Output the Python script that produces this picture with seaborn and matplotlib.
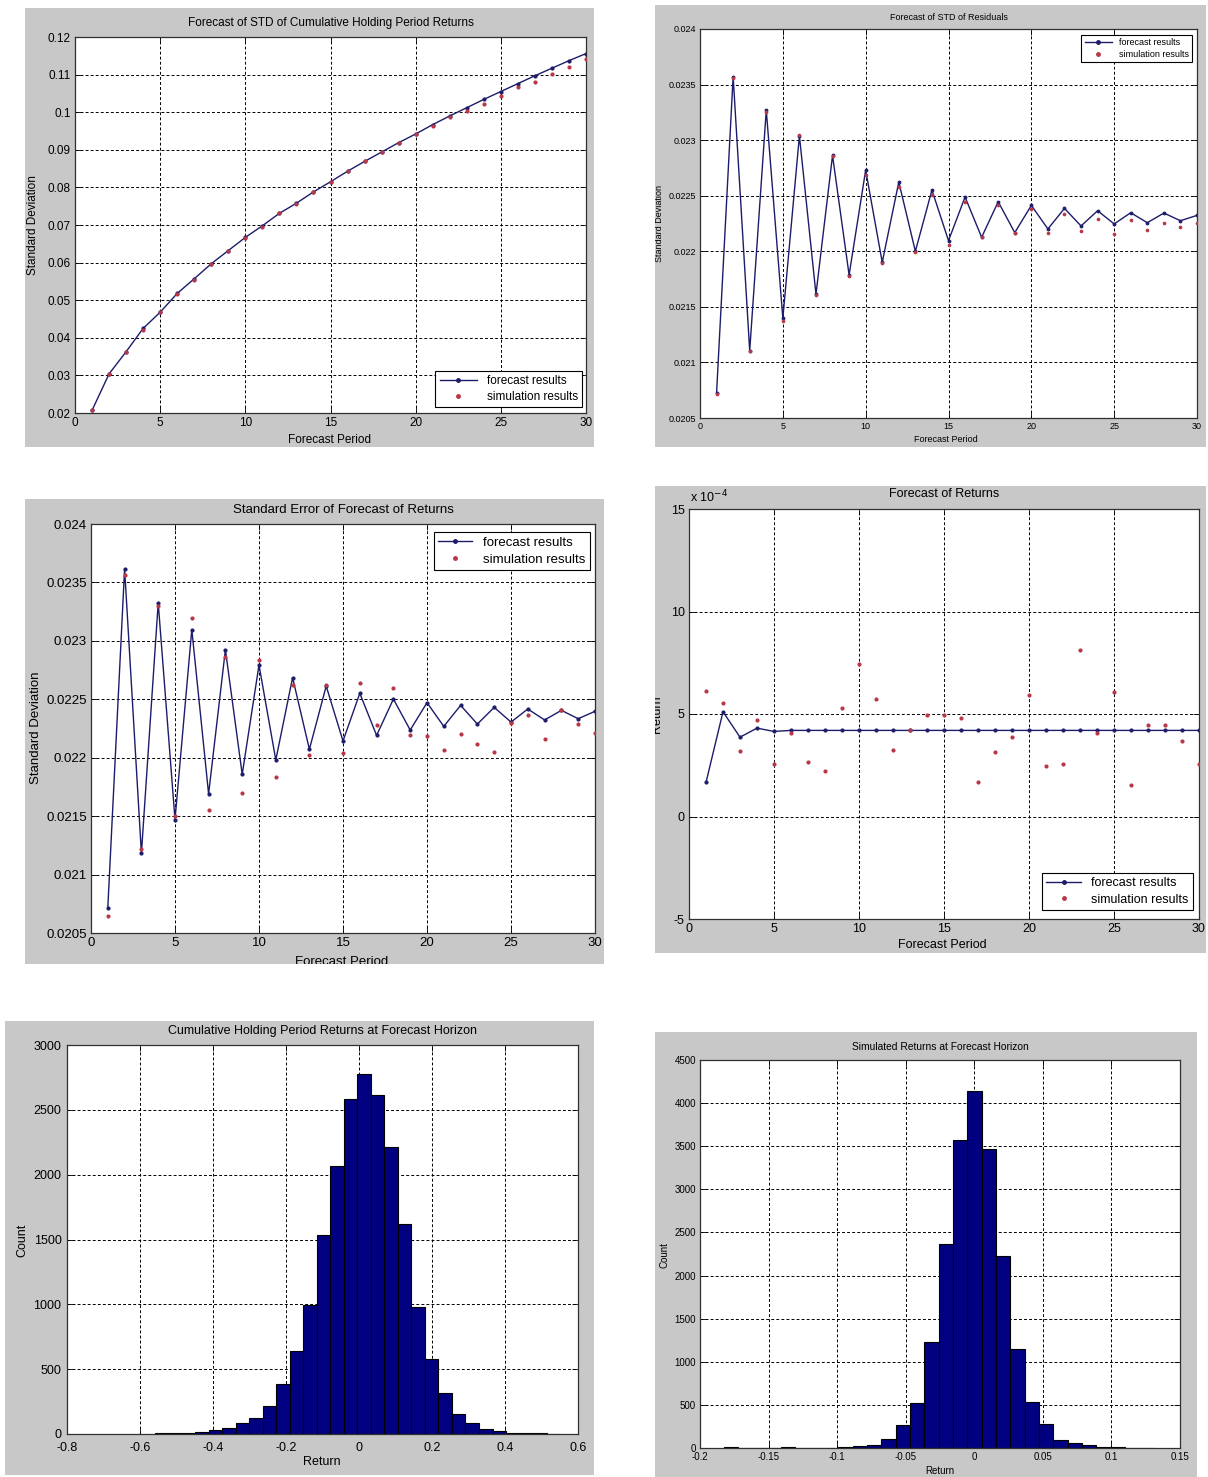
import numpy as np
import pandas as pd
import matplotlib
matplotlib.use("Agg")
import matplotlib.pyplot as plt
import seaborn as sns
from matplotlib.patches import Rectangle
from matplotlib.lines import Line2D
from matplotlib.ticker import FixedLocator, FuncFormatter
from matplotlib.transforms import Bbox, TransformedBbox

plt.rcParams['font.family'] = ['Liberation Sans', 'DejaVu Sans']

# ---------------------------------------------------------------- data
period = list(range(1, 31))

cum_std_forecast = [0.0207, 0.0304, 0.0363, 0.0425, 0.0468, 0.0518, 0.0557, 0.0597,
                    0.0632, 0.0667, 0.0698, 0.0731, 0.0758, 0.0788, 0.0815, 0.0843,
                    0.0869, 0.0894, 0.0919, 0.0942, 0.0967, 0.0990, 0.1012, 0.1034,
                    0.1055, 0.1076, 0.1097, 0.1117, 0.1137, 0.1156]
cum_std_sim = [0.0207, 0.0303, 0.0362, 0.0422, 0.0469, 0.0517, 0.0555, 0.0596,
               0.0631, 0.0665, 0.0696, 0.0731, 0.0756, 0.0788, 0.0815, 0.0843,
               0.0869, 0.0893, 0.0918, 0.0942, 0.0962, 0.0986, 0.1004, 0.1023,
               0.1043, 0.1066, 0.1080, 0.1101, 0.1121, 0.1141]

resid_std_forecast = [0.020725, 0.023572, 0.021105, 0.023270, 0.021398, 0.023039,
                      0.021614, 0.022862, 0.021787, 0.022730, 0.021901, 0.022623,
                      0.022000, 0.022551, 0.022096, 0.022488, 0.022126, 0.022446,
                      0.022168, 0.022413, 0.022201, 0.022386, 0.022228, 0.022365,
                      0.022246, 0.022347, 0.022257, 0.022344, 0.022275, 0.022323]
resid_std_sim = [0.020716, 0.023563, 0.021099, 0.023257, 0.021374, 0.023042,
                 0.021608, 0.022853, 0.021781, 0.022683, 0.021895, 0.022575,
                 0.021994, 0.022509, 0.022057, 0.022446, 0.022126, 0.022413,
                 0.022162, 0.022383, 0.022162, 0.022338, 0.022183, 0.022293,
                 0.022159, 0.022281, 0.022189, 0.022251, 0.022216, 0.022251]

se_forecast = [0.020714, 0.023616, 0.021181, 0.023325, 0.021471, 0.023097,
               0.021690, 0.022924, 0.021858, 0.022793, 0.021981, 0.022685,
               0.022072, 0.022613, 0.022143, 0.022551, 0.022191, 0.022502,
               0.022237, 0.022471, 0.022268, 0.022448, 0.022288, 0.022431,
               0.022305, 0.022417, 0.022323, 0.022405, 0.022334, 0.022397]
se_sim = [0.020642, 0.023564, 0.021218, 0.023297, 0.021497, 0.023194,
          0.021554, 0.022861, 0.021699, 0.022833, 0.021838, 0.022622,
          0.022020, 0.022619, 0.022043, 0.022642, 0.022277, 0.022599,
          0.022191, 0.022183, 0.022063, 0.022203, 0.022117, 0.022052,
          0.022294, 0.022363, 0.022163, 0.022405, 0.022288, 0.022211]

# returns expressed in units of 1e-4
ret_forecast_e4 = [1.66, 5.11, 3.87, 4.31, 4.15, 4.20, 4.20, 4.20, 4.20, 4.20,
                   4.20, 4.20, 4.20, 4.20, 4.20, 4.20, 4.20, 4.20, 4.20, 4.20,
                   4.20, 4.20, 4.20, 4.20, 4.20, 4.20, 4.20, 4.20, 4.20, 4.20]
ret_sim_e4 = [6.13, 5.56, 3.20, 4.72, 2.54, 4.07, 2.65, 2.23, 5.28, 7.46,
              5.71, 3.25, 4.20, 4.93, 4.93, 4.81, 1.66, 3.17, 3.87, 5.93,
              2.46, 2.55, 8.11, 4.08, 6.05, 1.56, 4.46, 4.46, 3.67, 2.55]

cum_ret_range = (-0.560, 0.551)
cum_ret_counts = [5, 6, 8, 18, 33, 46, 82, 121, 218, 388,
                  640, 997, 1537, 2067, 2581, 2776, 2612, 2211, 1617, 982,
                  581, 319, 152, 82, 39, 23, 8, 5, 4, 3]

sim_ret_range = (-0.1827, 0.1308)
sim_ret_counts = [10, 0, 0, 3, 8, 2, 5, 5, 8, 19,
                  39, 108, 263, 518, 1225, 2370, 3572, 4140, 3471, 2223,
                  1144, 530, 274, 93, 54, 31, 10, 6, 5, 4]

# ---------------------------------------------------------------- styling
W, H = 1208, 1477
GRAY = '#c8c8c8'
NAVY = '#1c1c6a'
RED = '#b83848'
BARBLUE = '#000080'

fig = plt.figure(figsize=(W / 100, H / 100), dpi=100)
fig.patch.set_facecolor('white')


def panel(gray, box, fs):
    gx0, gy0, gx1, gy1 = gray
    fig.add_artist(Rectangle((gx0 / W, 1 - gy1 / H), (gx1 - gx0) / W, (gy1 - gy0) / H,
                             transform=fig.transFigure, fc=GRAY, ec='none', zorder=-10))
    l, t, r, b = box
    ax = fig.add_axes([l / W, 1 - b / H, (r - l) / W, (b - t) / H])
    ax.set_facecolor('white')
    clip = TransformedBbox(Bbox.from_extents(gx0 / W, 1 - gy1 / H, gx1 / W, 1 - gy0 / H),
                           fig.transFigure)
    ax.grid(True, color='black', linestyle=(0, (3, 2.2)), linewidth=0.7)
    ax.set_axisbelow(True)
    ax.tick_params(direction='in', top=True, right=True, length=4, width=0.6,
                   labelsize=fs, pad=3, colors='black')
    for s in ax.spines.values():
        s.set_linewidth(0.9)
        s.set_color('#303030')
    return ax, clip, box


def to_ax(box, x, y):
    l, t, r, b = box
    return (x - l) / (r - l), (b - y) / (b - t)


def label_panel(ax, box, clip, fs, title, tpos, xlabel, xpos, ylabel, ypos, tfs=None):
    tx, ty = to_ax(box, *tpos)
    ax.set_title(title, fontsize=tfs or fs, y=ty, pad=0, va='center')
    ax.set_xlabel(xlabel, fontsize=fs, va='center')
    ax.xaxis.set_label_coords(*to_ax(box, *xpos))
    ax.set_ylabel(ylabel, fontsize=fs, va='center')
    ax.yaxis.set_label_coords(*to_ax(box, *ypos))
    for t in (ax.title, ax.xaxis.label, ax.yaxis.label):
        t.set_clip_box(clip)
        t.set_clip_on(True)


def gfmt(v, pos=None):
    v = round(v, 7)
    return '0' if v == 0 else f'{v:g}'


def add_legend(ax, box, corner, fs, hl=3.0):
    handles = [Line2D([], [], color=NAVY, lw=1, marker='.', ms=5),
               Line2D([], [], color=RED, lw=0, marker='.', ms=5)]
    x, y = to_ax(box, *corner)
    leg = ax.legend(handles, ['forecast results', 'simulation results'],
                    loc='upper right', bbox_to_anchor=(x, y), borderaxespad=0,
                    fontsize=fs, frameon=True, fancybox=False, framealpha=1,
                    edgecolor='black', handlelength=hl, handletextpad=0.8,
                    labelspacing=0.35, borderpad=0.35)
    leg.get_frame().set_linewidth(0.8)


def period_plot(ax, forecast, sim, ms=4.5, s=9):
    sns.lineplot(x=period, y=forecast, ax=ax, color=NAVY, lw=1, marker='.',
                 markersize=ms, markeredgecolor=NAVY, legend=False)
    sns.scatterplot(x=period, y=sim, ax=ax, color=RED, marker='o', s=s,
                    linewidth=0, legend=False, zorder=3)
    ax.set_xlim(0, 30)
    ax.xaxis.set_major_locator(FixedLocator(range(0, 31, 5)))
    ax.xaxis.set_major_formatter(FuncFormatter(gfmt))
    ax.yaxis.set_major_formatter(FuncFormatter(gfmt))


# ---- Panel 1: STD of cumulative holding period returns
fs = 8.5
ax, clip, box = panel((25, 8, 594, 447), (75, 37, 586, 413), fs)
period_plot(ax, cum_std_forecast, cum_std_sim)
ax.set_ylim(0.02, 0.12)
ax.yaxis.set_major_locator(FixedLocator(np.round(np.arange(0.02, 0.1201, 0.01), 3)))
label_panel(ax, box, clip, fs, 'Forecast of STD of Cumulative Holding Period Returns',
            (329, 23), 'Forecast Period', (330, 440), 'Standard Deviation', (33, 225))
add_legend(ax, box, (582, 371), fs, hl=3.2)

# ---- Panel 2: STD of residuals
fs = 6.5
ax, clip, box = panel((655, 5, 1206, 447), (700, 29, 1197, 418), fs)
period_plot(ax, resid_std_forecast, resid_std_sim, ms=4, s=7)
ax.set_ylim(0.0205, 0.024)
ax.yaxis.set_major_locator(FixedLocator(np.round(np.arange(0.0205, 0.02401, 0.0005), 5)))
label_panel(ax, box, clip, fs, 'Forecast of STD of Residuals',
            (946, 17), 'Forecast Period', (946, 440), 'Standard Deviation', (660, 223))
add_legend(ax, box, (1192, 35), fs)

# ---- Panel 3: standard error of forecast of returns
fs = 9.5
ax, clip, box = panel((25, 499, 604, 964), (91, 524, 595, 933), fs)
period_plot(ax, se_forecast, se_sim)
ax.set_ylim(0.0205, 0.024)
ax.yaxis.set_major_locator(FixedLocator(np.round(np.arange(0.0205, 0.02401, 0.0005), 5)))
label_panel(ax, box, clip, fs, 'Standard Error of Forecast of Returns',
            (342, 510), 'Forecast Period', (342, 962), 'Standard Deviation', (36, 728))
add_legend(ax, box, (590, 532), fs, hl=2.6)

# ---- Panel 4: forecast of returns
fs = 9
ax, clip, box = panel((655, 486, 1206, 953), (689, 509, 1199, 919), fs)
period_plot(ax, ret_forecast_e4, ret_sim_e4)
ax.set_ylim(-5, 15)
ax.yaxis.set_major_locator(FixedLocator([-5, 0, 5, 10, 15]))
label_panel(ax, box, clip, fs, 'Forecast of Returns',
            (942, 494), 'Forecast Period', (942, 945), 'Return', (657, 714))
sx, sy = to_ax(box, 690, 497)
ax.text(sx, sy, r'x 10$^{-4}$', transform=ax.transAxes, fontsize=fs,
        ha='left', va='center')
add_legend(ax, box, (1193, 873), fs, hl=2.8)


# ---- Histograms
def hist_panel(ax, rng, counts):
    n = len(counts)
    width = (rng[1] - rng[0]) / n
    centers = [rng[0] + (i + 0.5) * width for i in range(n)]
    df = pd.DataFrame({'ret': centers, 'count': counts})
    sns.histplot(data=df, x='ret', weights='count', bins=n, binrange=rng, ax=ax,
                 color=BARBLUE, edgecolor='black', linewidth=0.8, alpha=1)
    ax.xaxis.set_major_formatter(FuncFormatter(gfmt))


fs = 9
ax, clip, box = panel((5, 1021, 594, 1475), (67, 1045, 578, 1434), fs)
hist_panel(ax, cum_ret_range, cum_ret_counts)
ax.set_xlim(-0.8, 0.6)
ax.set_ylim(0, 3000)
ax.xaxis.set_major_locator(FixedLocator(np.round(np.arange(-0.8, 0.601, 0.2), 2)))
ax.yaxis.set_major_locator(FixedLocator(range(0, 3001, 500)))
ax.tick_params(axis='y', pad=4)
ax.tick_params(axis='x', pad=6)
label_panel(ax, box, clip, fs, 'Cumulative Holding Period Returns at Forecast Horizon',
            (325, 1031), 'Return', (322, 1462), 'Count', (22, 1240))

fs = 7
ax, clip, box = panel((655, 1032, 1197, 1477), (700, 1060, 1180, 1448), fs)
hist_panel(ax, sim_ret_range, sim_ret_counts)
ax.set_xlim(-0.2, 0.15)
ax.set_ylim(0, 4500)
ax.xaxis.set_major_locator(FixedLocator(np.round(np.arange(-0.2, 0.1501, 0.05), 2)))
ax.yaxis.set_major_locator(FixedLocator(range(0, 4501, 500)))
label_panel(ax, box, clip, fs, 'Simulated Returns at Forecast Horizon',
            (943, 1047), 'Return', (940, 1471), 'Count', (665, 1255), tfs=7.4)

fig.savefig('out.png', dpi=100, facecolor='white')
